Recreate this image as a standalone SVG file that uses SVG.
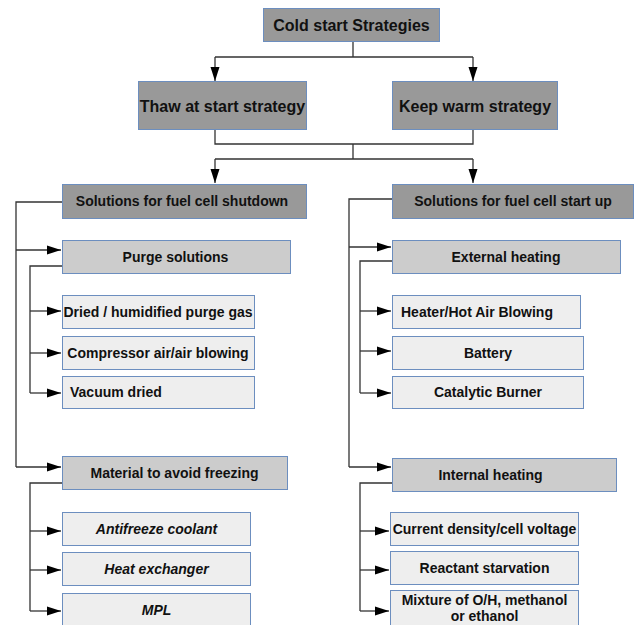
<svg xmlns="http://www.w3.org/2000/svg" width="639" height="625" viewBox="0 0 639 625">
<style>
text{font-family:"Liberation Sans",Arial,sans-serif;font-weight:bold;fill:#111;text-anchor:middle}
.t16{font-size:16px}
.t14{font-size:14px}
.it{font-style:italic}
.b1{fill:#999999;stroke:#6c8ebf;stroke-width:1}
.b2{fill:#cccccc;stroke:#6c8ebf;stroke-width:1}
.b3{fill:#eeeeee;stroke:#6c8ebf;stroke-width:1}
.c{fill:none;stroke:#333;stroke-width:1.3}
</style>
<defs>
<marker id="ah" markerUnits="userSpaceOnUse" markerWidth="15" markerHeight="10" refX="14" refY="5" orient="auto">
<path d="M0,0.5 L14,5 L0,9.5 z" fill="#000"/>
</marker>
</defs>
<rect width="639" height="625" fill="#fff"/>
<g id="connectors">
<path class="c" d="M353,42 V57 M215,57 H473"/>
<path class="c" d="M215,57 V81" marker-end="url(#ah)"/>
<path class="c" d="M473,57 V81" marker-end="url(#ah)"/>
<path class="c" d="M215,130 V144 H473 V130 M353,144 V159 M215,159 H473"/>
<path class="c" d="M215,159 V183" marker-end="url(#ah)"/>
<path class="c" d="M473,159 V183" marker-end="url(#ah)"/>
<path class="c" d="M62,202 H16 V467"/>
<path class="c" d="M16,250 H61" marker-end="url(#ah)"/>
<path class="c" d="M16,467 H61" marker-end="url(#ah)"/>
<path class="c" d="M62,266 H30 V393"/>
<path class="c" d="M30,311 H61" marker-end="url(#ah)"/>
<path class="c" d="M30,353 H61" marker-end="url(#ah)"/>
<path class="c" d="M30,393 H61" marker-end="url(#ah)"/>
<path class="c" d="M62,483 H30 V611"/>
<path class="c" d="M30,531 H61" marker-end="url(#ah)"/>
<path class="c" d="M30,570 H61" marker-end="url(#ah)"/>
<path class="c" d="M30,611 H61" marker-end="url(#ah)"/>
<path class="c" d="M392,199 H349 V467"/>
<path class="c" d="M349,247 H391" marker-end="url(#ah)"/>
<path class="c" d="M349,467 H391" marker-end="url(#ah)"/>
<path class="c" d="M392,261 H360 V393"/>
<path class="c" d="M360,311 H391" marker-end="url(#ah)"/>
<path class="c" d="M360,351 H391" marker-end="url(#ah)"/>
<path class="c" d="M360,393 H391" marker-end="url(#ah)"/>
<path class="c" d="M392,483 H360 V611"/>
<path class="c" d="M360,531 H389" marker-end="url(#ah)"/>
<path class="c" d="M360,570 H389" marker-end="url(#ah)"/>
<path class="c" d="M360,611 H389" marker-end="url(#ah)"/>
</g>
<g id="cold-start"><rect class="b1" x="263.5" y="8.5" width="176" height="33"/><text class="t16" x="351.5" y="31">Cold start Strategies</text></g>
<g id="thaw"><rect class="b1" x="138.5" y="81.5" width="168" height="48"/><text class="t16" x="222.5" y="111.5">Thaw at start strategy</text></g>
<g id="keep-warm"><rect class="b1" x="392.5" y="81.5" width="165" height="48"/><text class="t16" x="475" y="111.5">Keep warm strategy</text></g>
<g id="shutdown"><rect class="b1" x="62.5" y="184.5" width="244" height="34"/><text class="t14" x="182" y="206">Solutions for fuel cell shutdown</text></g>
<g id="startup"><rect class="b1" x="392.5" y="184.5" width="241" height="34"/><text class="t14" x="513" y="206">Solutions for fuel cell start up</text></g>
<g id="purge"><rect class="b2" x="62.5" y="240.5" width="228" height="33"/><text class="t14" x="175.5" y="261.5">Purge solutions</text></g>
<g id="dried"><rect class="b3" x="62.5" y="295.5" width="192" height="33"/><text class="t14" x="158" y="316.5">Dried / humidified purge gas</text></g>
<g id="compressor"><rect class="b3" x="62.5" y="336.5" width="192" height="33"/><text class="t14" x="158" y="357.5">Compressor air/air blowing</text></g>
<g id="vacuum"><rect class="b3" x="62.5" y="376.5" width="192" height="32"/><text class="t14" x="70" y="397" style="text-anchor:start">Vacuum dried</text></g>
<g id="material"><rect class="b2" x="62.5" y="456.5" width="225" height="33"/><text class="t14" x="174.5" y="478">Material to avoid freezing</text></g>
<g id="antifreeze"><rect class="b3" x="62.5" y="512.5" width="188" height="33"/><text class="t14 it" x="156.5" y="534">Antifreeze coolant</text></g>
<g id="heat-exchanger"><rect class="b3" x="62.5" y="552.5" width="188" height="33"/><text class="t14 it" x="156.5" y="574">Heat exchanger</text></g>
<g id="mpl"><rect class="b3" x="62.5" y="593.5" width="188" height="34"/><text class="t14 it" x="156.5" y="615">MPL</text></g>
<g id="external"><rect class="b2" x="392.5" y="240.5" width="228" height="33"/><text class="t14" x="506" y="261.5">External heating</text></g>
<g id="heater"><rect class="b3" x="392.5" y="295.5" width="188" height="33"/><text class="t14" x="401" y="316.5" style="text-anchor:start">Heater/Hot Air Blowing</text></g>
<g id="battery"><rect class="b3" x="392.5" y="336.5" width="191" height="33"/><text class="t14" x="488" y="357.5">Battery</text></g>
<g id="catalytic"><rect class="b3" x="392.5" y="376.5" width="191" height="32"/><text class="t14" x="488" y="397">Catalytic Burner</text></g>
<g id="internal"><rect class="b2" x="392.5" y="458.5" width="224" height="33"/><text class="t14" x="490.5" y="480">Internal heating</text></g>
<g id="current"><rect class="b3" x="390.5" y="512.5" width="188" height="33"/><text class="t14" x="484.5" y="534">Current density/cell voltage</text></g>
<g id="reactant"><rect class="b3" x="390.5" y="551.5" width="188" height="33"/><text class="t14" x="484.5" y="573">Reactant starvation</text></g>
<g id="mixture"><rect class="b3" x="390.5" y="590.5" width="188" height="37"/><text class="t14" x="484.5" y="605">Mixture of O/H, methanol</text><text class="t14" x="484.5" y="621">or ethanol</text></g>
</svg>
